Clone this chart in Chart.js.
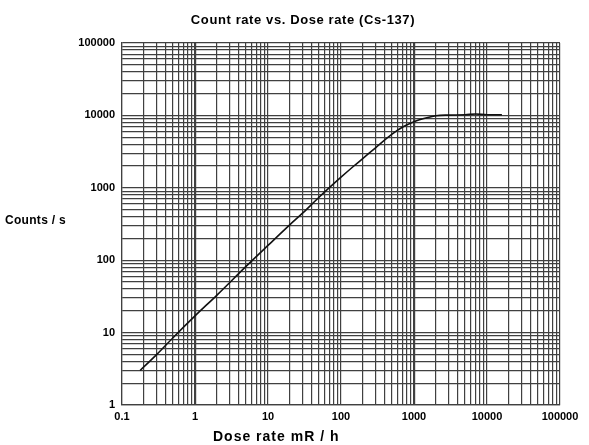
<!DOCTYPE html>
<html>
<head>
<meta charset="utf-8">
<script src="https://cdn.jsdelivr.net/npm/chart.js@4/dist/chart.umd.min.js"></script>
<style>
  html, body { margin: 0; padding: 0; background: #fff; }
  #wrap { width: 589px; height: 445px; }
</style>
</head>
<body>
<div id="wrap"><canvas id="doseChart"></canvas></div>
<script>
// dose rate (mR/h) and count rate (counts/s)
const doseRate = [0.177, 0.3, 0.5, 1, 2, 5, 10, 20, 30, 50, 100, 150, 200, 300, 500, 700, 1000, 1500, 2000, 3000, 5000, 7000, 10000, 16000];
const countRate = [3, 5, 8.5, 17, 33, 82, 160, 310, 450, 740, 1400, 2000, 2550, 3600, 5500, 6900, 8200, 9300, 9900, 10100, 10200, 10450, 10200, 10200];

const xDecades = [0.1, 1, 10, 100, 1000, 10000, 100000];
const yDecades = [1, 10, 100, 1000, 10000, 100000];
const thickLines = [1, 1000];

function logTicks(decades) {
  const out = [];
  for (let i = 0; i < decades.length - 1; i++) {
    for (let s = 1; s <= 9; s++) out.push({ value: +(decades[i] * s).toPrecision(6) });
  }
  out.push({ value: decades[decades.length - 1] });
  return out;
}

function decadeLabel(decades) {
  return function (value) {
    return decades.some(d => Math.abs(d - value) / d < 1e-6) ? String(value) : '';
  };
}

const tickFont = { family: 'Liberation Sans, Arial, sans-serif', size: 11, weight: 'bold' };

const textPlugin = {
  id: 'texts',
  afterDraw(chart) {
    const c = chart.ctx;
    c.save();
    c.fillStyle = '#000';
    c.textBaseline = 'middle';
    c.textAlign = 'center';
    c.font = 'bold 13px "Liberation Sans", Arial, sans-serif';
    c.letterSpacing = '0.6px';
    c.fillText('Count rate vs. Dose rate (Cs-137)', 303, 20);
    c.textAlign = 'left';
    c.font = 'bold 12px "Liberation Sans", Arial, sans-serif';
    c.letterSpacing = '0.3px';
    c.fillText('Counts / s', 5, 221);
    c.font = 'bold 14px "Liberation Sans", Arial, sans-serif';
    c.letterSpacing = '1px';
    c.fillText('Dose rate mR / h', 213, 437);
    c.restore();
  }
};

new Chart(document.getElementById('doseChart'), {
  type: 'line',
  data: {
    labels: doseRate,
    datasets: [{
      label: 'Counts / s',
      data: doseRate.map((x, i) => ({ x: x, y: countRate[i] })),
      borderColor: '#111',
      borderWidth: 1.6,
      pointRadius: 0,
      cubicInterpolationMode: 'monotone',
      fill: false
    }]
  },
  options: {
    responsive: true,
    maintainAspectRatio: false,
    animation: false,
    layout: { padding: { top: 43, right: 29, left: 0, bottom: 0 } },
    plugins: {
      legend: { display: false },
      tooltip: { enabled: false }
    },
    scales: {
      x: {
        type: 'logarithmic',
        min: 0.1,
        max: 100000,
        afterBuildTicks: s => { s.ticks = logTicks(xDecades); },
        afterFit: s => { s.height = 40; },
        grid: {
          color: '#404040',
          lineWidth: ctx => thickLines.includes(ctx.tick && ctx.tick.value) ? 2.2 : 1.2,
          drawTicks: false
        },
        border: { display: true, color: '#404040', width: 1.2 },
        ticks: {
          autoSkip: false,
          maxRotation: 0,
          padding: 5,
          color: '#000',
          font: tickFont,
          callback: decadeLabel(xDecades)
        }
      },
      y: {
        type: 'logarithmic',
        min: 1,
        max: 100000,
        afterBuildTicks: s => { s.ticks = logTicks(yDecades); },
        afterFit: s => { s.width = 122; },
        grid: {
          color: '#404040',
          lineWidth: 1.2,
          drawTicks: false
        },
        border: { display: true, color: '#404040', width: 1.2 },
        ticks: {
          autoSkip: false,
          padding: 7,
          color: '#000',
          font: tickFont,
          callback: decadeLabel(yDecades)
        }
      }
    }
  },
  plugins: [textPlugin]
});
</script>
</body>
</html>
